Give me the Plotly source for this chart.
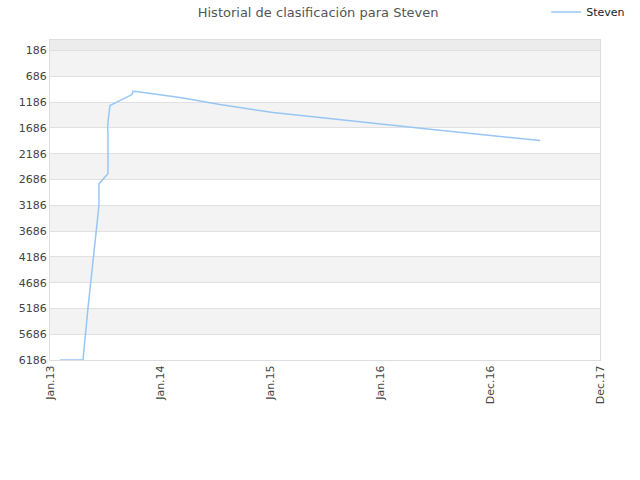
import plotly.graph_objects as go

# tick labels on the x axis (evenly spaced positions 0..5)
x_labels = ["Jan.13", "Jan.14", "Jan.15", "Jan.16", "Dec.16", "Dec.17"]
y_ticks = [186, 686, 1186, 1686, 2186, 2686, 3186, 3686, 4186, 4686, 5186, 5686, 6186]

# ranking history, x in axis-label units
pos = [0.091, 0.300, 0.345, 0.445, 0.445, 0.527, 0.527, 0.524, 0.527, 0.545,
       0.745, 0.755, 0.782, 1.182, 1.545, 2.027, 3.455, 4.455]
rank = [6186, 6186, 5186, 3186, 2766, 2573, 1750, 1700, 1574, 1251,
        1038, 973, 979, 1097, 1232, 1386, 1713, 1930]

fig = go.Figure()

# alternating background bands
fig.add_shape(type="rect", xref="paper", x0=0, x1=1, yref="y", y0=-20, y1=186,
              fillcolor="#ececec", line_width=0, layer="below")
for i in range(0, len(y_ticks) - 1, 2):
    fig.add_shape(type="rect", xref="paper", x0=0, x1=1, yref="y",
                  y0=y_ticks[i], y1=y_ticks[i + 1],
                  fillcolor="#f3f3f3", line_width=0, layer="below")

fig.add_trace(go.Scatter(x=pos, y=rank, mode="lines", name="Steven",
                         line=dict(color="#98c6f4", width=1.5)))

fig.update_layout(
    width=640, height=480,
    margin=dict(l=50, r=40, t=40, b=120),
    paper_bgcolor="white", plot_bgcolor="white",
    font=dict(family="DejaVu Sans", size=11, color="#444"),
    title=dict(text="Historial de clasificación para Steven", x=0.497, xanchor="center",
               y=0.975, yanchor="middle", font=dict(size=13, color="#555")),
    showlegend=True,
    legend=dict(x=1.055, xanchor="right", y=0.975, yanchor="middle", yref="container",
                bgcolor="rgba(0,0,0,0)", font=dict(size=11, color="#222"),
                itemwidth=30),
)

fig.update_xaxes(range=[0, 5], tickvals=list(range(6)), ticktext=x_labels,
                 tickangle=-90, showgrid=False, zeroline=False, automargin=False,
                 showline=True, linecolor="#dddddd", mirror=True,
                 ticks="", tickfont=dict(size=11, color="#444"))
fig.update_yaxes(range=[6186, -20], tickvals=y_ticks, ticktext=[str(v) for v in y_ticks],
                 showgrid=True, gridcolor="#e0e0e0", zeroline=False, automargin=False,
                 showline=True, linecolor="#dddddd", mirror=True,
                 ticks="", tickfont=dict(size=11, color="#444"))

# drop the default 8px page margin so the figure sits at the window corner
fig.write_html("out.html", config={"displayModeBar": False},
               post_script="document.body.style.margin='0';")
